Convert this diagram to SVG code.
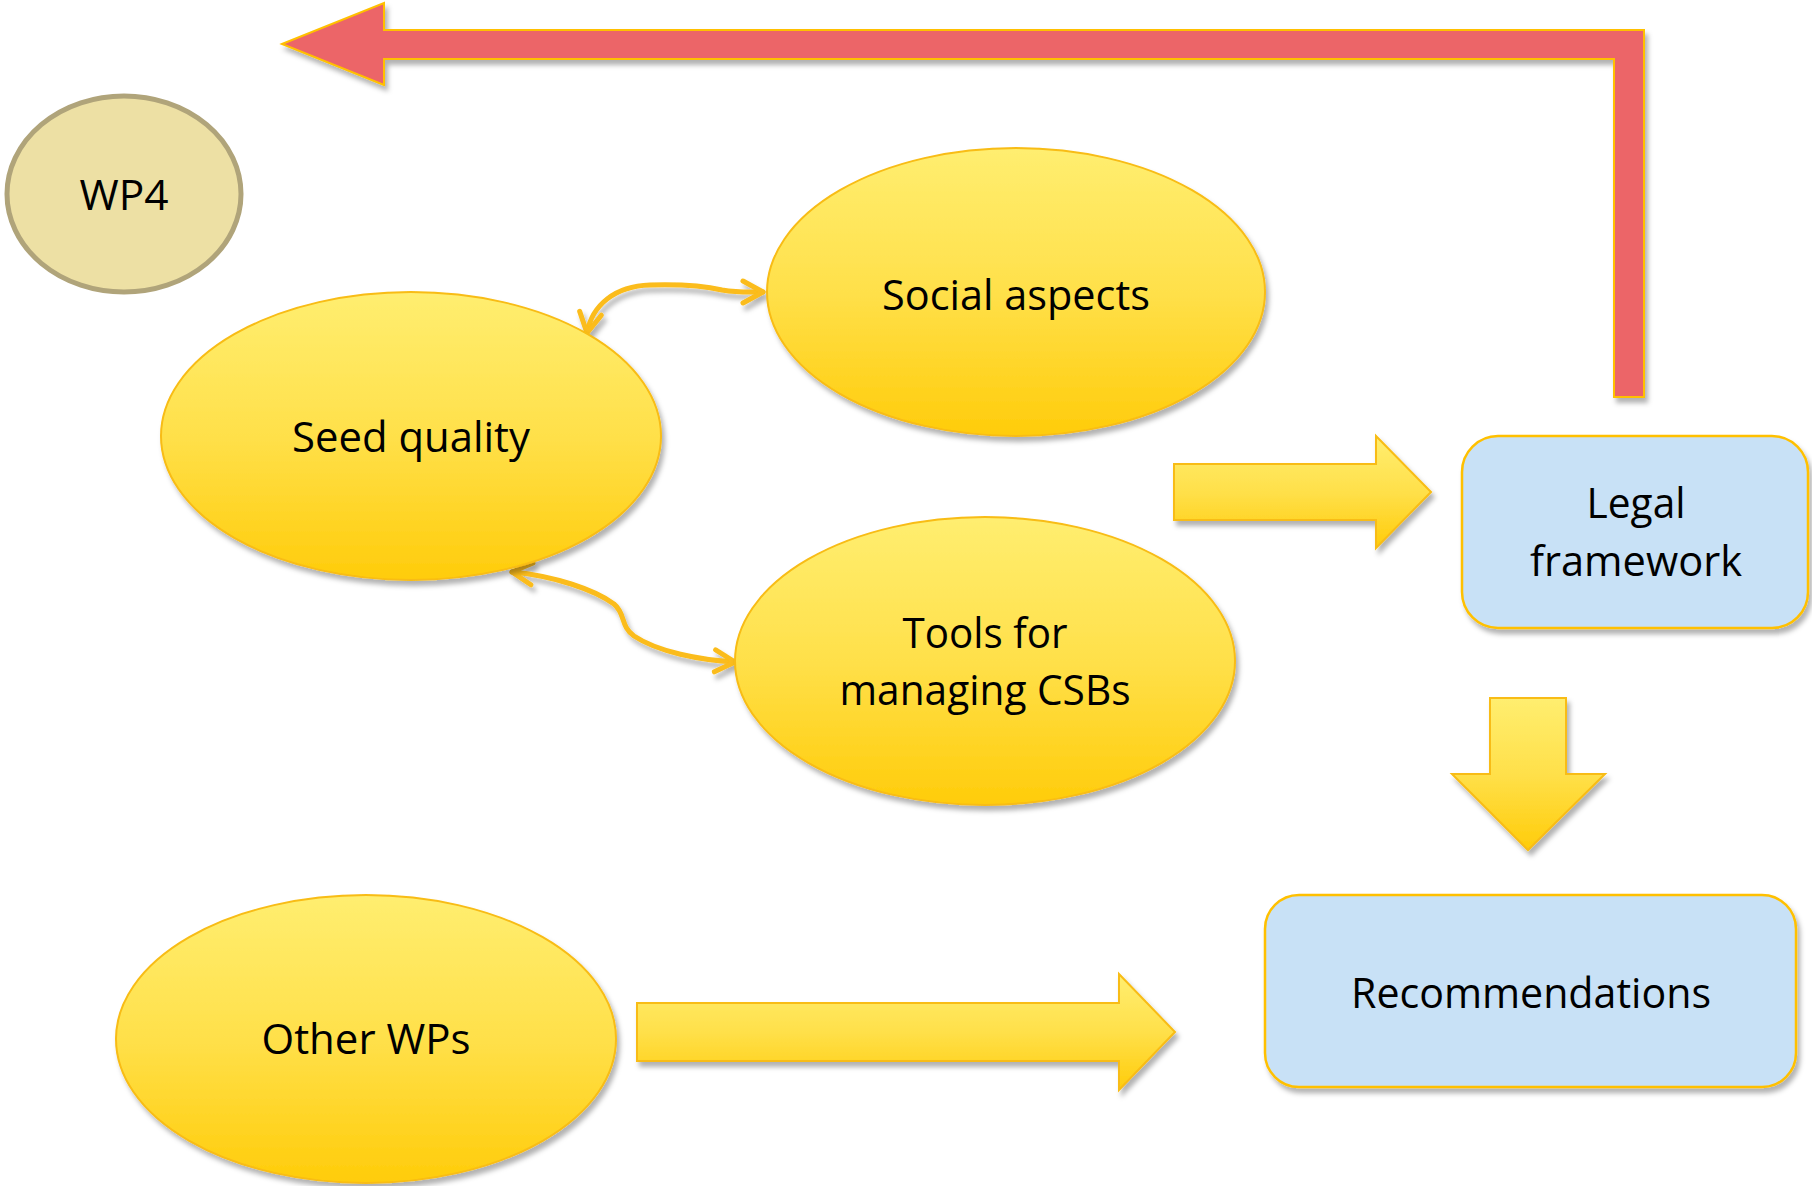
<svg xmlns="http://www.w3.org/2000/svg" width="1812" height="1186" viewBox="0 0 1812 1186">
  <defs>
    <linearGradient id="gold" x1="0" y1="0" x2="0" y2="1">
      <stop offset="0" stop-color="#FFEE70"/>
      <stop offset="0.5" stop-color="#FFE04A"/>
      <stop offset="1" stop-color="#FFCC0A"/>
    </linearGradient>
    <filter id="shadow" x="-10%" y="-10%" width="125%" height="130%">
      <feDropShadow dx="3" dy="5" stdDeviation="2.5" flood-color="#000" flood-opacity="0.3"/>
    </filter>
    <marker id="chev" markerUnits="userSpaceOnUse" markerWidth="30" markerHeight="30" viewBox="0 0 30 30" refX="24" refY="15" orient="auto-start-reverse">
      <path d="M4,4 L24,15 L4,26" fill="none" stroke="#FBBC1A" stroke-width="5" stroke-linecap="round" stroke-linejoin="round"/>
    </marker>
    <style>
      .ell { fill: url(#gold); stroke: #F8BC14; stroke-width: 2; filter: url(#shadow); }
      .box { fill: #C8E1F6; stroke: #FFC000; stroke-width: 2.5; filter: url(#shadow); }
      .big { fill: url(#gold); stroke: #F8BC14; stroke-width: 2; filter: url(#shadow); }
      .red { fill: #EC6568; stroke: #FFC000; stroke-width: 2; filter: url(#shadow); }
      .lbl { font-family: "Open Sans", "Liberation Sans", sans-serif; font-size: 42px; fill: #000; text-anchor: middle; }
      .con { fill: none; stroke: #FBBC1A; stroke-width: 5; stroke-linecap: round; marker-start: url(#chev); marker-end: url(#chev); }
    </style>
  </defs>

  <g id="connectors">
    <path id="red-feedback" class="red" d="M282,44 L384,3 L384,30 L1644,30 L1644,397 L1614,397 L1614,59 L384,59 L384,85 Z"/>
    <path id="arrow-to-legal" class="big" d="M1174,464 L1376,464 L1376,436 L1431,492 L1376,548 L1376,520 L1174,520 Z"/>
    <path id="arrow-to-recommendations" class="big" d="M1490,698 L1566,698 L1566,774 L1605,774 L1528,850 L1452,774 L1490,774 Z"/>
    <path id="arrow-otherwps" class="big" d="M637,1003 L1119,1003 L1119,974 L1175,1032 L1119,1090 L1119,1061 L637,1061 Z"/>
    <g filter="url(#shadow)">
      <path id="seed-social" class="con" d="M587,333 C592,305 615,286 650,285 C685,284 705,286 722,290 C740,293 750,292 763,292"/>
      <path id="seed-tools" class="con" d="M512,572 C555,576 595,590 614,604 C626,614 620,626 634,636 C658,652 700,660 735,662"/>
    </g>
  </g>

  <g id="wp4">
    <ellipse cx="124" cy="194" rx="117" ry="98" fill="#EDE0A4" stroke="#B0A47A" stroke-width="5"/>
    <text class="lbl" x="124" y="210" textLength="89" lengthAdjust="spacingAndGlyphs">WP4</text>
  </g>

  <g id="social-aspects">
    <ellipse class="ell" cx="1016" cy="292" rx="249" ry="144"/>
    <text class="lbl" x="1016" y="310" textLength="268" lengthAdjust="spacingAndGlyphs">Social aspects</text>
  </g>

  <g id="seed-quality">
    <ellipse class="ell" cx="411" cy="436" rx="250" ry="144"/>
    <text class="lbl" x="411" y="452" textLength="238" lengthAdjust="spacingAndGlyphs">Seed quality</text>
  </g>

  <g id="tools">
    <ellipse class="ell" cx="985" cy="661" rx="250" ry="144"/>
    <text class="lbl" x="985" y="648" textLength="165" lengthAdjust="spacingAndGlyphs">Tools for</text>
    <text class="lbl" x="985" y="705" textLength="291" lengthAdjust="spacingAndGlyphs">managing CSBs</text>
  </g>

  <g id="other-wps">
    <ellipse class="ell" cx="366" cy="1039" rx="250" ry="144"/>
    <text class="lbl" x="366" y="1054" textLength="209" lengthAdjust="spacingAndGlyphs">Other WPs</text>
  </g>

  <g id="legal-framework">
    <rect class="box" x="1462" y="436" width="346" height="192" rx="36" ry="36"/>
    <text class="lbl" x="1636" y="518" textLength="99" lengthAdjust="spacingAndGlyphs">Legal</text>
    <text class="lbl" x="1636" y="576" textLength="212" lengthAdjust="spacingAndGlyphs">framework</text>
  </g>

  <g id="recommendations">
    <rect class="box" x="1265" y="895" width="531" height="192" rx="34" ry="34"/>
    <text class="lbl" x="1531" y="1008" textLength="360" lengthAdjust="spacingAndGlyphs">Recommendations</text>
  </g>
</svg>
